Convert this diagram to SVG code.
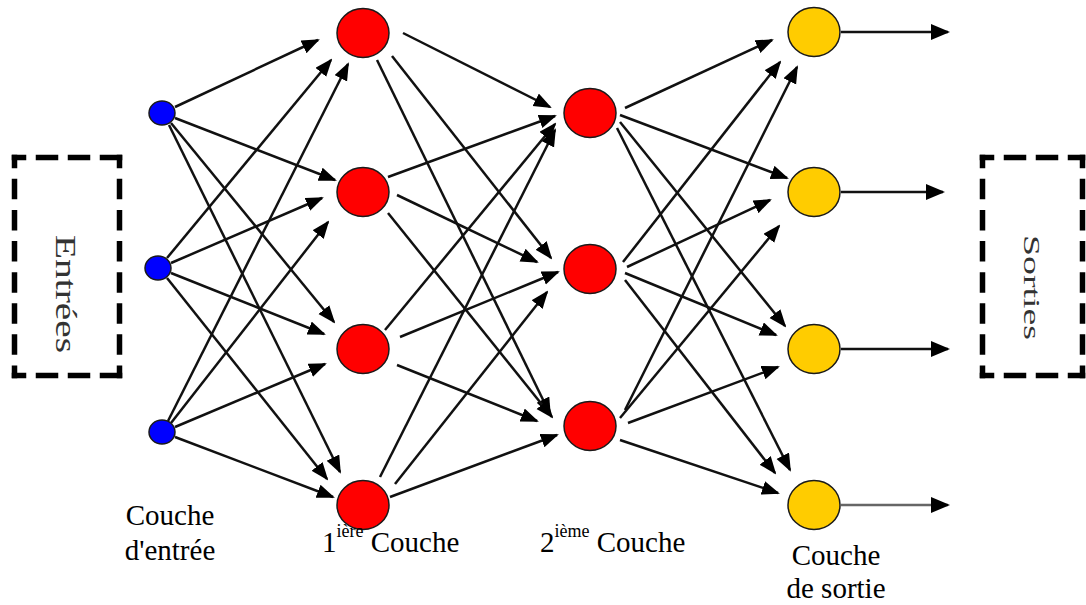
<svg xmlns="http://www.w3.org/2000/svg" width="1086" height="605" viewBox="0 0 1086 605">
  <style>
    .link { stroke: #111; stroke-width: 2.5; fill: none; marker-end: url(#head); }
    .out { stroke: #111; stroke-width: 2.4; fill: none; marker-end: url(#headOut); }
    .node { stroke: #1a1a1a; stroke-width: 1.5; }
    .in { fill: #0000FF; }
    .hid { fill: #FF0000; }
    .res { fill: #FFCC00; }
    .lbl { font-family: "Liberation Serif", "Times New Roman", serif; font-size: 29px; fill: #000; }
    .sup { font-size: 18px; }
    .frame { fill: none; stroke: #000; stroke-width: 5.5; stroke-linecap: square; }
    .side { font-family: "Liberation Serif", "Times New Roman", serif; fill: #333; }
  </style>
  <defs>
    <marker id="head" markerUnits="userSpaceOnUse" markerWidth="18" markerHeight="15" refX="16" refY="7" orient="auto">
      <path d="M0,0 L18,7 L0,14 z" fill="#000"/>
    </marker>
    <marker id="headOut" markerUnits="userSpaceOnUse" markerWidth="19" markerHeight="17" refX="17" refY="8" orient="auto">
      <path d="M0,0 L19,8 L0,16 z" fill="#000"/>
    </marker>
  </defs>

  <!-- dashed frames -->
  <g id="frame-in">
    <line class="frame" x1="14.5" y1="157.5" x2="119.5" y2="157.5" stroke-dasharray="17 15" stroke-dashoffset="8"/>
    <line class="frame" x1="14.5" y1="375.5" x2="119.5" y2="375.5" stroke-dasharray="17 15" stroke-dashoffset="8"/>
    <line class="frame" x1="14.5" y1="157.5" x2="14.5" y2="375.5" stroke-dasharray="15 16.1" stroke-dashoffset="7"/>
    <line class="frame" x1="119.5" y1="157.5" x2="119.5" y2="375.5" stroke-dasharray="15 16.1" stroke-dashoffset="7"/>
    <text class="side" font-size="29" transform="translate(56,235) rotate(90)" textLength="118" lengthAdjust="spacingAndGlyphs">Entrées</text>
  </g>
  <g id="frame-out">
    <line class="frame" x1="982.5" y1="157.5" x2="1082.5" y2="157.5" stroke-dasharray="17 15" stroke-dashoffset="8"/>
    <line class="frame" x1="982.5" y1="375.5" x2="1082.5" y2="375.5" stroke-dasharray="17 15" stroke-dashoffset="8"/>
    <line class="frame" x1="982.5" y1="157.5" x2="982.5" y2="375.5" stroke-dasharray="15 16.1" stroke-dashoffset="7"/>
    <line class="frame" x1="1082.5" y1="157.5" x2="1082.5" y2="375.5" stroke-dasharray="15 16.1" stroke-dashoffset="7"/>
    <text class="side" font-size="24" transform="translate(1024,235) rotate(90)" textLength="105" lengthAdjust="spacingAndGlyphs">Sorties</text>
  </g>

  <!-- weighted connections -->
  <g id="connectors">
    <!-- input layer to first hidden layer -->
    <line class="link" x1="175" y1="107" x2="318" y2="40"/>
    <line class="link" x1="175" y1="118" x2="335" y2="180"/>
    <line class="link" x1="171" y1="123" x2="334" y2="322"/>
    <line class="link" x1="169" y1="125" x2="340" y2="472"/>
    <line class="link" x1="167" y1="258" x2="331" y2="60"/>
    <line class="link" x1="171" y1="263" x2="322" y2="198"/>
    <line class="link" x1="171" y1="273" x2="324" y2="334"/>
    <line class="link" x1="167" y1="278" x2="327" y2="479"/>
    <line class="link" x1="168" y1="421" x2="348" y2="64"/>
    <line class="link" x1="171" y1="423" x2="328" y2="222"/>
    <line class="link" x1="175" y1="427" x2="325" y2="364"/>
    <line class="link" x1="175" y1="437" x2="333" y2="497"/>
    <!-- first hidden layer to second hidden layer -->
    <line class="link" x1="403" y1="33" x2="550" y2="107"/>
    <line class="link" x1="392" y1="56" x2="551" y2="258"/>
    <line class="link" x1="377" y1="60" x2="550" y2="414"/>
    <line class="link" x1="388" y1="177" x2="555" y2="116"/>
    <line class="link" x1="397" y1="195" x2="537" y2="262"/>
    <line class="link" x1="388" y1="213" x2="552" y2="417"/>
    <line class="link" x1="385" y1="330" x2="555" y2="124"/>
    <line class="link" x1="400" y1="337" x2="558" y2="272"/>
    <line class="link" x1="397" y1="365" x2="537" y2="421"/>
    <line class="link" x1="380" y1="477" x2="555" y2="130"/>
    <line class="link" x1="395" y1="484" x2="547" y2="292"/>
    <line class="link" x1="390" y1="497" x2="557" y2="435"/>
    <!-- second hidden layer to output layer -->
    <line class="link" x1="625" y1="108" x2="772" y2="40"/>
    <line class="link" x1="620" y1="115" x2="787" y2="178"/>
    <line class="link" x1="620" y1="122" x2="785" y2="326"/>
    <line class="link" x1="617" y1="128" x2="790" y2="470"/>
    <line class="link" x1="623" y1="262" x2="780" y2="62"/>
    <line class="link" x1="627" y1="267" x2="770" y2="200"/>
    <line class="link" x1="625" y1="273" x2="776" y2="335"/>
    <line class="link" x1="625" y1="280" x2="775" y2="473"/>
    <line class="link" x1="625" y1="410" x2="797" y2="67"/>
    <line class="link" x1="620" y1="418" x2="779" y2="226"/>
    <line class="link" x1="628" y1="423" x2="778" y2="367"/>
    <line class="link" x1="620" y1="440" x2="778" y2="493"/>
    <!-- outputs -->
    <line class="out" x1="841" y1="32" x2="948" y2="32"/>
    <line class="out" x1="841" y1="192" x2="943" y2="192"/>
    <line class="out" x1="841" y1="349" x2="948" y2="349"/>
    <line class="out" x1="841" y1="505" x2="948" y2="505" style="stroke:#666"/>
  </g>

  <!-- input layer -->
  <g id="in-1"><ellipse class="node in" cx="162" cy="113" rx="13" ry="12"/></g>
  <g id="in-2"><ellipse class="node in" cx="158" cy="268" rx="13" ry="12"/></g>
  <g id="in-3"><ellipse class="node in" cx="162" cy="432" rx="13" ry="12"/></g>

  <!-- first hidden layer -->
  <g id="h1-1"><ellipse class="node hid" cx="363" cy="33" rx="26" ry="24.5"/></g>
  <g id="h1-2"><ellipse class="node hid" cx="363" cy="192" rx="26" ry="24.5"/></g>
  <g id="h1-3"><ellipse class="node hid" cx="363" cy="349" rx="26" ry="24.5"/></g>
  <g id="h1-4"><ellipse class="node hid" cx="363" cy="505" rx="26" ry="24.5"/></g>

  <!-- second hidden layer -->
  <g id="h2-1"><ellipse class="node hid" cx="590" cy="113" rx="26" ry="24.5"/></g>
  <g id="h2-2"><ellipse class="node hid" cx="590" cy="269" rx="26" ry="24.5"/></g>
  <g id="h2-3"><ellipse class="node hid" cx="590" cy="426" rx="26" ry="24.5"/></g>

  <!-- output layer -->
  <g id="out-1"><ellipse class="node res" cx="814" cy="32" rx="26" ry="24.5"/></g>
  <g id="out-2"><ellipse class="node res" cx="814" cy="192" rx="26" ry="24.5"/></g>
  <g id="out-3"><ellipse class="node res" cx="814" cy="349" rx="26" ry="24.5"/></g>
  <g id="out-4"><ellipse class="node res" cx="814" cy="505" rx="26" ry="24.5"/></g>

  <!-- layer captions -->
  <g id="label-input">
    <text class="lbl" x="170" y="525" text-anchor="middle">Couche</text>
    <text class="lbl" x="170" y="560" text-anchor="middle">d'entrée</text>
  </g>
  <g id="label-hidden1">
    <text class="lbl" x="322" y="552">1<tspan class="sup" dy="-15">ière</tspan><tspan dy="15"> Couche</tspan></text>
  </g>
  <g id="label-hidden2">
    <text class="lbl" x="540" y="552">2<tspan class="sup" dy="-15">ième</tspan><tspan dy="15"> Couche</tspan></text>
  </g>
  <g id="label-output">
    <text class="lbl" x="836" y="565" text-anchor="middle">Couche</text>
    <text class="lbl" x="836" y="598" text-anchor="middle">de sortie</text>
  </g>
</svg>
